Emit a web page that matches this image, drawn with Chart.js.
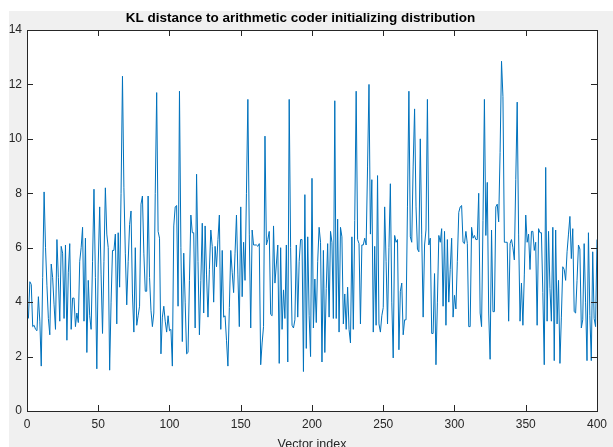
<!DOCTYPE html>
<html>
<head>
<meta charset="utf-8">
<script src="https://cdn.jsdelivr.net/npm/chart.js@4/dist/chart.umd.min.js"></script>
<style>
  html, body { margin: 0; padding: 0; background: #fff; overflow: hidden; }
  #wrap { position: relative; width: 613px; height: 460px; }
</style>
</head>
<body>
<div id="wrap"><canvas id="klChart"></canvas></div>
<script>
const TITLE = 'KL distance to arithmetic coder initializing distribution';
const X_LABEL = 'Vector index';
const X_TICKS = [0, 50, 100, 150, 200, 250, 300, 350, 400];
const Y_TICKS = [0, 2, 4, 6, 8, 10, 12, 14];

// KL distance per vector, indices 1..400
const klValues = [
  3.4, 4.75, 4.65, 3.1, 3.15, 3.0, 2.95, 4.2, 3.3, 1.65,
  4.9, 8.05, 6.0, 4.6, 3.4, 2.8, 5.4, 4.9, 3.9, 3.0,
  6.3, 4.9, 3.3, 6.05, 5.8, 3.4, 6.1, 2.6, 5.1, 6.15,
  3.0, 4.15, 4.15, 3.1, 3.6, 3.25, 5.5, 6.0, 6.75, 3.3,
  6.35, 2.15, 4.8, 3.5, 3.0, 5.5, 8.15, 4.9, 1.55, 5.4,
  7.5, 5.0, 2.85, 5.5, 8.2, 6.5, 6.0, 1.5, 4.0, 5.9,
  5.9, 6.5, 3.2, 6.55, 4.55, 8.0, 12.3, 8.2, 5.8, 3.9,
  5.5, 6.85, 7.35, 4.3, 2.9, 6.0, 3.15, 3.5, 3.85, 7.6,
  7.9, 5.8, 4.4, 4.4, 7.9, 4.9, 3.7, 3.1, 3.6, 8.0,
  11.7, 6.6, 6.35, 2.1, 3.45, 3.85, 3.3, 2.9, 3.5, 2.95,
  3.0, 1.65, 6.8, 7.5, 7.55, 3.85, 11.75, 6.0, 2.55, 5.8,
  4.0, 2.1, 2.15, 4.8, 7.2, 6.55, 6.55, 3.05, 8.7, 5.5,
  2.8, 4.8, 6.9, 3.6, 6.8, 5.0, 3.45, 5.2, 6.65, 6.05,
  4.0, 6.05, 5.3, 6.3, 7.2, 3.0, 5.9, 3.45, 3.5, 2.6,
  1.65, 3.8, 5.9, 5.1, 4.35, 5.8, 7.2, 5.0, 3.1, 7.5,
  4.2, 6.2, 4.8, 8.0, 11.45, 6.5, 3.05, 6.65, 6.1, 6.1,
  6.1, 6.05, 6.15, 1.7, 2.5, 3.1, 10.1, 6.1, 6.3, 6.6,
  3.55, 3.5, 6.8, 4.7, 5.4, 6.1, 1.75, 6.0, 3.0, 4.45,
  3.4, 6.1, 1.8, 11.45, 6.0, 3.15, 3.05, 3.35, 6.1, 3.45,
  5.5, 6.3, 6.3, 1.45, 7.95, 2.3, 6.4, 3.5, 2.0, 8.55,
  3.05, 4.85, 3.25, 5.5, 6.75, 6.2, 1.8, 5.9, 2.15, 4.5,
  6.15, 3.45, 6.6, 6.2, 3.4, 11.4, 3.4, 7.05, 2.9, 6.75,
  6.4, 3.2, 4.3, 3.0, 4.55, 3.0, 2.5, 6.4, 3.0, 7.0,
  11.75, 6.3, 6.15, 3.2, 6.1, 6.1, 6.35, 6.1, 9.0, 12.0,
  6.5, 8.5, 2.9, 6.05, 3.15, 8.65, 3.2, 2.9, 3.5, 3.8,
  7.5, 5.5, 3.2, 6.0, 8.35, 4.0, 1.95, 6.45, 6.2, 6.3,
  2.25, 4.4, 4.7, 2.8, 3.35, 3.35, 7.5, 11.75, 6.4, 6.2,
  9.0, 11.1, 7.5, 5.95, 5.85, 10.0, 6.5, 3.45, 6.1, 6.65,
  11.45, 6.1, 6.35, 2.85, 2.85, 5.05, 1.7, 4.0, 6.45, 6.2,
  6.7, 3.85, 6.6, 3.15, 6.3, 4.0, 5.2, 6.35, 3.45, 4.25,
  3.75, 5.5, 7.3, 7.5, 7.55, 6.2, 6.15, 6.6, 6.15, 3.1,
  3.1, 6.75, 6.35, 6.45, 6.3, 6.3, 8.0, 3.6, 3.1, 7.0,
  11.45, 6.45, 8.4, 3.6, 1.9, 6.65, 3.65, 3.65, 7.5, 7.6,
  6.95, 9.5, 12.85, 11.55, 6.2, 6.2, 6.2, 3.3, 6.15, 6.3,
  6.0, 5.55, 8.5, 11.35, 6.5, 3.3, 4.7, 3.15, 5.0, 7.2,
  6.2, 6.5, 5.2, 6.6, 6.6, 5.9, 6.2, 3.15, 6.7, 6.55,
  6.55, 4.35, 1.7, 8.95, 3.3, 6.6, 4.5, 3.3, 6.75, 1.85,
  6.65, 3.2, 4.8, 1.75, 3.45, 5.3, 5.2, 4.8, 5.85, 6.5,
  7.15, 5.6, 6.7, 3.65, 3.6, 4.8, 6.1, 5.95, 3.05, 3.35,
  6.15, 4.0, 1.85, 6.55, 3.5, 1.85, 5.85, 3.4, 3.1, 6.3
];

const vectorIndex = klValues.map((v, i) => i + 1);

const AXIS_COLOR = '#262626';
const FONT = '"Liberation Sans", Arial, Helvetica, sans-serif';

// grey figure background with the white strips at the top and left edge
const figureBackground = {
  id: 'figureBackground',
  beforeDraw(chart) {
    const { ctx, width, height, chartArea } = chart;
    ctx.save();
    ctx.fillStyle = '#ffffff';
    ctx.fillRect(0, 0, width, height);
    ctx.fillStyle = '#f0f0f0';
    ctx.fillRect(9, 11, width - 9, height - 11);
    ctx.fillStyle = '#ffffff';
    ctx.fillRect(chartArea.left, chartArea.top, chartArea.right - chartArea.left, chartArea.bottom - chartArea.top);
    ctx.restore();
  }
};

// matlab style box with ticks pointing inward on all four sides
const matlabBox = {
  id: 'matlabBox',
  afterDraw(chart) {
    const { ctx, chartArea: a, scales } = chart;
    const len = 6;
    ctx.save();
    ctx.strokeStyle = AXIS_COLOR;
    ctx.lineWidth = 1;
    ctx.beginPath();
    X_TICKS.forEach(t => {
      const px = Math.round(scales.x.getPixelForValue(t)) + 0.5;
      ctx.moveTo(px, a.bottom); ctx.lineTo(px, a.bottom - len);
      ctx.moveTo(px, a.top); ctx.lineTo(px, a.top + len);
    });
    Y_TICKS.forEach(t => {
      const py = Math.round(scales.y.getPixelForValue(t)) + 0.5;
      ctx.moveTo(a.left, py); ctx.lineTo(a.left + len, py);
      ctx.moveTo(a.right, py); ctx.lineTo(a.right - len, py);
    });
    ctx.stroke();
    ctx.strokeRect(Math.round(a.left) + 0.5, Math.round(a.top) + 0.5,
      Math.round(a.right - a.left), Math.round(a.bottom - a.top));
    ctx.restore();
  }
};

const ctx = document.getElementById('klChart').getContext('2d');
new Chart(ctx, {
  type: 'line',
  data: {
    datasets: [{
      data: vectorIndex.map((x, i) => ({ x, y: klValues[i] })),
      borderColor: '#0072bd',
      borderWidth: 1,
      pointRadius: 0,
      tension: 0,
      fill: false
    }]
  },
  options: {
    responsive: true,
    maintainAspectRatio: false,
    animation: false,
    layout: { padding: { left: 0, right: 12, top: 0, bottom: 0 } },
    plugins: {
      legend: { display: false },
      tooltip: { enabled: false },
      title: {
        display: true,
        text: TITLE,
        color: '#000',
        font: { family: FONT, size: 13.5, weight: 'bold' },
        padding: { top: 10, bottom: 3.8 }
      }
    },
    scales: {
      x: {
        type: 'linear',
        min: 0,
        max: 400,
        afterFit: (scale) => { scale.height = 49; },
        afterBuildTicks: (scale) => { scale.ticks = X_TICKS.map(v => ({ value: v })); },
        grid: { display: false, drawTicks: false },
        border: { display: false },
        ticks: { color: AXIS_COLOR, padding: 6, maxRotation: 0, font: { family: FONT, size: 12 } },
        title: {
          display: true,
          text: X_LABEL,
          color: AXIS_COLOR,
          font: { family: FONT, size: 12.5 },
          padding: { top: 0, bottom: 8 }
        }
      },
      y: {
        min: 0,
        max: 14,
        afterFit: (scale) => { scale.width = 27; },
        afterBuildTicks: (scale) => { scale.ticks = Y_TICKS.map(v => ({ value: v })); },
        grid: { display: false, drawTicks: false },
        border: { display: false },
        ticks: { color: AXIS_COLOR, padding: 5, font: { family: FONT, size: 12 } }
      }
    }
  },
  plugins: [figureBackground, matlabBox]
});
</script>
</body>
</html>
